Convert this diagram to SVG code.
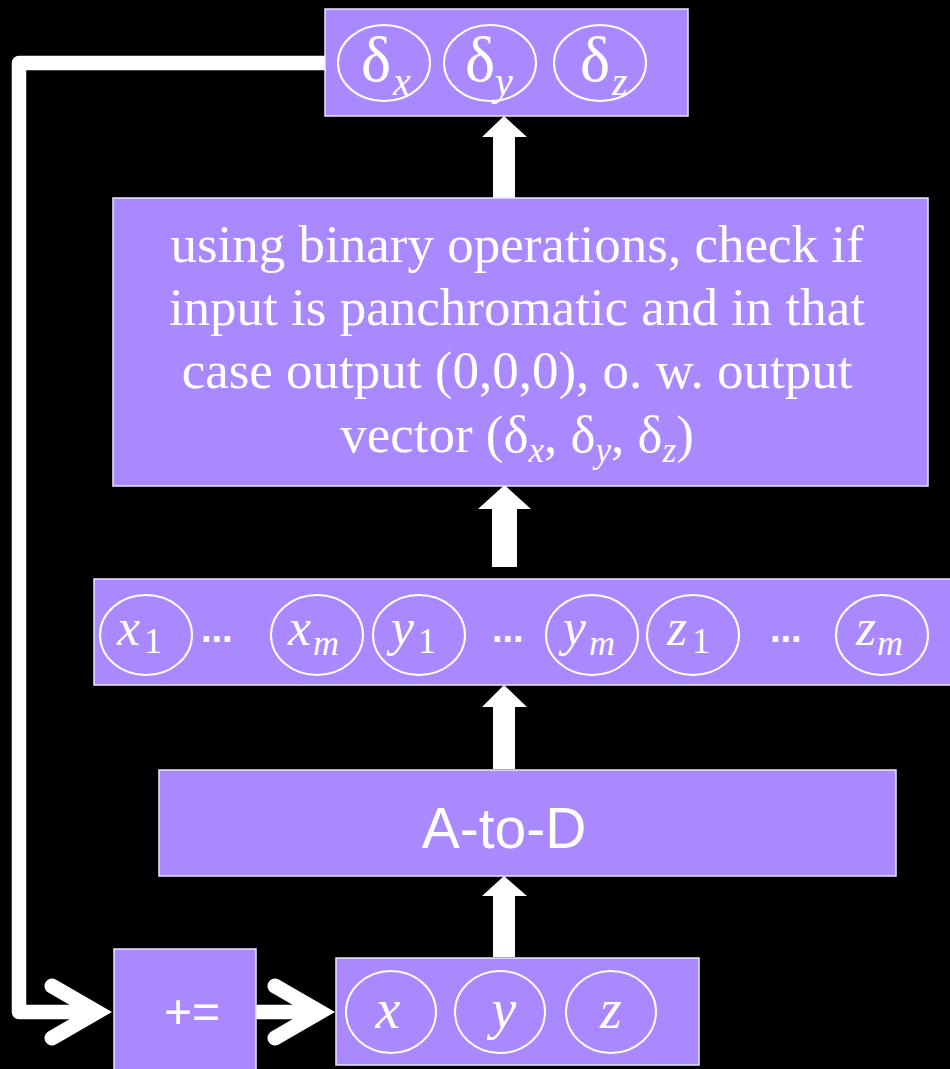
<svg xmlns="http://www.w3.org/2000/svg" width="950" height="1069" viewBox="0 0 950 1069">
<style>
.box{fill:#aa88ff;stroke:#ece6ff;stroke-width:1.5}
.ell{fill:none;stroke:#ffffff;stroke-width:2}
.t{fill:#ffffff;font-family:"Liberation Serif",serif}
.it{font-style:italic}
.sans{fill:#ffffff;font-family:"Liberation Sans",sans-serif}
.blk{fill:#ffffff}
.line{fill:none;stroke:#ffffff;stroke-width:14.5;stroke-linejoin:round}
.chev{fill:none;stroke:#ffffff;stroke-width:15;stroke-linecap:round;stroke-linejoin:miter;stroke-miterlimit:6}
</style>
<rect x="0" y="0" width="950" height="1069" fill="#000000"/>
<g id="connectors">
  <polygon class="blk" points="504,116 527,137 515,137 515,198 493,198 493,137 482,137"/>
  <polygon class="blk" points="504.5,485 531,509 517,509 517,567 492,567 492,509 478,509"/>
  <polygon class="blk" points="504,685 527,707 515,707 515,769 493,769 493,707 482,707"/>
  <polygon class="blk" points="504,876 527,896 515,896 515,957 493,957 493,896 482,896"/>
  <path class="line" d="M326,63 H19 V1012 H96"/>
  <polyline class="chev" points="52,986 97,1012 52,1038"/>
  <path class="line" d="M256,1012 H318"/>
  <polyline class="chev" points="275,986 320,1012 275,1038"/>
</g>
<g id="delta-out">
  <rect class="box" x="325" y="9" width="363" height="107"/>
  <ellipse class="ell" cx="384" cy="63" rx="46" ry="38"/>
  <ellipse class="ell" cx="490" cy="63" rx="46" ry="38"/>
  <ellipse class="ell" cx="600" cy="63" rx="46" ry="38"/>
  <text class="t" x="361" y="81" font-size="64">δ</text>
  <text class="t it" x="393" y="95" font-size="40">x</text>
  <text class="t" x="465" y="81" font-size="64">δ</text>
  <text class="t it" x="495" y="95" font-size="40">y</text>
  <text class="t" x="580" y="81" font-size="64">δ</text>
  <text class="t it" x="612" y="95" font-size="40">z</text>
</g>
<g id="check">
  <rect class="box" x="113" y="198" width="815" height="288"/>
  <text class="t" x="517" y="262" font-size="53" text-anchor="middle">using binary operations, check if</text>
  <text class="t" x="517" y="325" font-size="53" text-anchor="middle">input is panchromatic and in that</text>
  <text class="t" x="517" y="388" font-size="53" text-anchor="middle">case output (0,0,0), o. w. output</text>
  <text class="t" x="517" y="452" font-size="53" text-anchor="middle">vector (δ<tspan class="it" font-size="35" dy="10">x</tspan><tspan dy="-10">, δ</tspan><tspan class="it" font-size="35" dy="10">y</tspan><tspan dy="-10">, δ</tspan><tspan class="it" font-size="35" dy="10">z</tspan><tspan dy="-10">)</tspan></text>
</g>
<g id="bits">
  <rect class="box" x="94" y="579" width="860" height="106"/>
  <ellipse class="ell" cx="146" cy="635" rx="46" ry="40"/>
  <ellipse class="ell" cx="317" cy="635" rx="46" ry="40"/>
  <ellipse class="ell" cx="419" cy="635" rx="46" ry="40"/>
  <ellipse class="ell" cx="592" cy="635" rx="46" ry="40"/>
  <ellipse class="ell" cx="693" cy="635" rx="46" ry="40"/>
  <ellipse class="ell" cx="882" cy="635" rx="46" ry="40"/>
  <text class="t it" x="117" y="645" font-size="52">x</text>
  <text class="t" x="144" y="653" font-size="36">1</text>
  <text class="t it" x="288" y="645" font-size="52">x</text>
  <text class="t it" x="313" y="655" font-size="36">m</text>
  <text class="t it" x="391" y="645" font-size="52">y</text>
  <text class="t" x="418" y="653" font-size="36">1</text>
  <text class="t it" x="563" y="645" font-size="52">y</text>
  <text class="t it" x="589" y="655" font-size="36">m</text>
  <text class="t it" x="667" y="645" font-size="52">z</text>
  <text class="t" x="692" y="653" font-size="36">1</text>
  <text class="t it" x="856" y="645" font-size="52">z</text>
  <text class="t it" x="877" y="655" font-size="36">m</text>
  <text class="sans" x="201" y="642" font-size="38" font-weight="bold">...</text>
  <text class="sans" x="492" y="642" font-size="38" font-weight="bold">...</text>
  <text class="sans" x="770" y="642" font-size="38" font-weight="bold">...</text>
</g>
<g id="atod">
  <rect class="box" x="159" y="770" width="737" height="106"/>
  <text class="sans" x="504" y="848" font-size="57" text-anchor="middle">A-to-D</text>
</g>
<g id="plus-eq">
  <rect class="box" x="114" y="949" width="142" height="130"/>
  <text class="sans" x="192" y="1028" font-size="48" text-anchor="middle">+=</text>
</g>
<g id="xyz">
  <rect class="box" x="336" y="958" width="363" height="107"/>
  <ellipse class="ell" cx="391" cy="1012" rx="45" ry="41"/>
  <ellipse class="ell" cx="500" cy="1012" rx="45" ry="41"/>
  <ellipse class="ell" cx="611" cy="1012" rx="45" ry="41"/>
  <text class="t it" x="388" y="1028" font-size="56" text-anchor="middle">x</text>
  <text class="t it" x="504" y="1028" font-size="56" text-anchor="middle">y</text>
  <text class="t it" x="611" y="1028" font-size="56" text-anchor="middle">z</text>
</g>
</svg>
